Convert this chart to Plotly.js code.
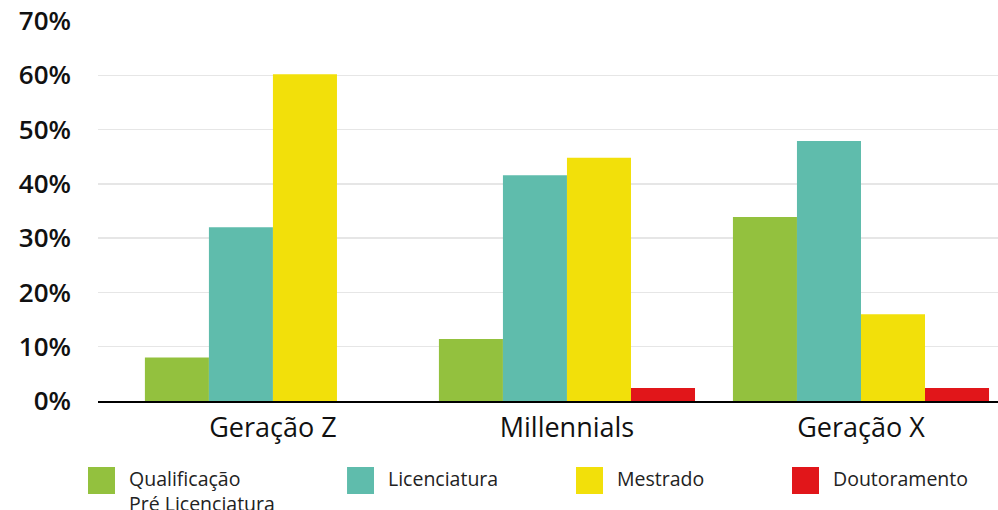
<!DOCTYPE html>
<html>
<head>
<meta charset="utf-8">
<script src="https://cdn.plot.ly/plotly-3.0.1.min.js"></script>
<style>html,body{margin:0;padding:0;background:#fff;}#chart{width:998px;height:510px;}</style>
</head>
<body>
<div id="chart"></div>
<script>
// ---- data ----
const categories = ["Geração Z", "Millennials", "Geração X"];
const seriesNames = ["Qualificação<br>Pré Licenciatura", "Licenciatura", "Mestrado", "Doutoramento"];
const qualificacao = [8, 11.4, 33.9];
const licenciatura = [32, 41.6, 47.9];
const mestrado = [60.2, 44.8, 16];
const doutoramento = [0, 2.4, 2.4];
const yTickVals = [0, 10, 20, 30, 40, 50, 60, 70];
const yTickText = ["0%", "10%", "20%", "30%", "40%", "50%", "60%", "70%"];

// ---- style ----
const colors = ["#93c13e", "#5fbcac", "#f2e00a", "#e1161a"];
const seriesValues = [qualificacao, licenciatura, mestrado, doutoramento];
const legendX = [-0.0111, 0.2767, 0.5311, 0.7711]; // paper coords of legend squares

const traces = seriesValues.map((vals, i) => ({
  type: "bar",
  x: categories,
  y: vals,
  name: seriesNames[i].replace("<br>", " "),
  marker: { color: colors[i], line: { width: 0 } },
  hoverinfo: "skip"
}));

const sqW = 0.0300, sqY0 = -0.2447, sqY1 = -0.1737, textGap = 0.0144;
const shapes = [], annotations = [];
seriesNames.forEach((n, i) => {
  shapes.push({
    type: "rect", xref: "paper", yref: "paper",
    x0: legendX[i], x1: legendX[i] + sqW, y0: sqY0, y1: sqY1,
    fillcolor: colors[i], line: { width: 0 }
  });
  annotations.push({
    xref: "paper", yref: "paper",
    x: legendX[i] + sqW + textGap, y: -0.165,
    xanchor: "left", yanchor: "top", align: "left",
    text: n, showarrow: false, borderpad: 0,
    font: { family: "Open Sans", size: 19.5, color: "#222" }
  });
});

const layout = {
  width: 998, height: 510,
  margin: { l: 98, r: 0, t: 21, b: 109 },
  paper_bgcolor: "#fff", plot_bgcolor: "#fff",
  barmode: "group", bargap: 0.129, bargroupgap: 0,
  showlegend: false,
  xaxis: {
    type: "category",
    range: [-0.595, 2.466],
    showline: true, linecolor: "#000", linewidth: 1.5,
    showgrid: false, ticks: "", ticklabelstandoff: 2,
    tickfont: { family: "Open Sans", size: 27, color: "#111" }
  },
  yaxis: {
    range: [0, 70],
    tickvals: yTickVals, ticktext: yTickText,
    showgrid: true, gridcolor: "#e6e6e6", gridwidth: 1.5,
    zeroline: false, showline: false, ticks: "",
    ticklabelstandoff: 26,
    tickfont: { family: "Open Sans", size: 26, color: "#111", weight: 600 }
  },
  shapes: shapes,
  annotations: annotations
};

Plotly.newPlot("chart", traces, layout, { staticPlot: true, displayModeBar: false });
</script>
</body>
</html>
